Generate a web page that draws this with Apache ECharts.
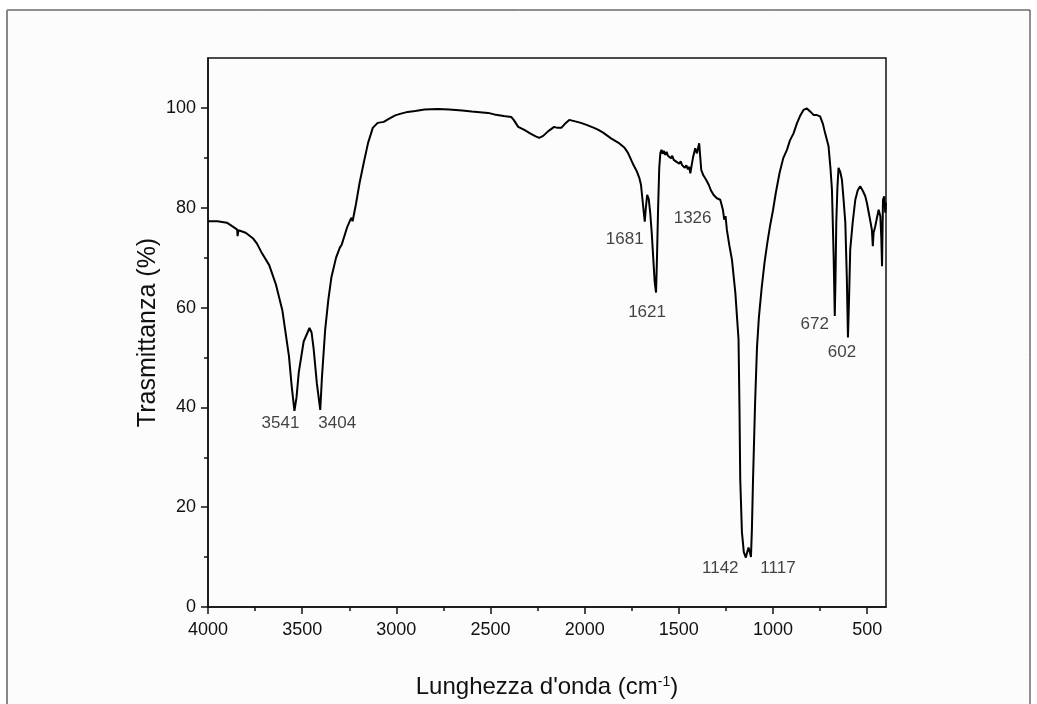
<!DOCTYPE html>
<html>
<head>
<meta charset="utf-8">
<script src="https://cdn.jsdelivr.net/npm/echarts@6/dist/echarts.min.js"></script>
<style>
  html, body { margin: 0; padding: 0; background: #fff; }
  #main { width: 1037px; height: 704px; }
</style>
</head>
<body>
<div id="main"></div>
<script>
// spettro IR: [numero d'onda (cm-1), trasmittanza (%)]
var spectrum = [
  [4000, 77.3], [3950, 77.3], [3900, 77.0], [3860, 76.0], [3845, 75.6], [3843, 74.3], [3838, 75.5],
  [3800, 75.0], [3762, 73.9], [3740, 72.8], [3718, 71.2], [3675, 68.5], [3640, 64.7], [3605, 59.4],
  [3570, 50.2], [3555, 44], [3541, 39.3], [3530, 42], [3518, 47], [3492, 53.2], [3461, 55.9],
  [3450, 55], [3439, 51.7], [3422, 44.8], [3404, 39.5], [3395, 46], [3378, 55.5], [3361, 61.6],
  [3345, 66], [3320, 70], [3300, 72], [3290, 72.6], [3262, 76], [3245, 77.5], [3238, 78],
  [3232, 77.3], [3226, 78.5], [3215, 80.6], [3195, 85], [3173, 89], [3150, 93], [3125, 96],
  [3099, 97], [3067, 97.2], [3040, 97.8], [3006, 98.5], [2980, 98.8], [2940, 99.2], [2900, 99.4],
  [2850, 99.7], [2779, 99.8], [2720, 99.7], [2650, 99.5], [2600, 99.3], [2513, 99.0], [2480, 98.7],
  [2430, 98.4], [2390, 98.2], [2375, 97.5], [2353, 96.2], [2320, 95.6], [2290, 94.9], [2260, 94.3],
  [2241, 94.0], [2220, 94.4], [2195, 95.3], [2162, 96.2], [2145, 96.0], [2124, 96.0], [2100, 97.0],
  [2082, 97.6], [2050, 97.3], [2020, 97.0], [1990, 96.6], [1950, 96.0], [1927, 95.6], [1900, 95.0],
  [1860, 93.9], [1820, 93.0], [1788, 92.0], [1770, 91.0], [1758, 90.0], [1740, 88.5], [1722, 87.2],
  [1710, 86.0], [1701, 84.6], [1690, 80.5], [1681, 77.2], [1675, 80], [1668, 82.6], [1660, 81.8],
  [1652, 79], [1644, 75], [1636, 70], [1628, 65], [1621, 63], [1616, 70], [1610, 80], [1604, 88],
  [1598, 91], [1592, 91.6], [1586, 90.8], [1580, 91.4], [1572, 90.6], [1565, 91.2], [1558, 90.4],
  [1550, 90.8], [1542, 89.9], [1535, 90.4], [1527, 89.6], [1520, 90], [1512, 89.2], [1505, 89.6],
  [1497, 88.8], [1490, 89.3], [1482, 88.5], [1475, 88.9], [1468, 88], [1460, 88.5], [1452, 87.7],
  [1445, 88.2], [1439, 86.9], [1432, 88.5], [1425, 90], [1413, 91.9], [1404, 90.9], [1392, 92.9],
  [1386, 90], [1381, 87.6], [1370, 86.5], [1360, 85.9], [1351, 85.3], [1340, 84.5], [1330, 83.5],
  [1316, 82.6], [1298, 81.9], [1280, 81.6], [1266, 79.6], [1259, 77.6], [1252, 78.3], [1245, 75.6],
  [1232, 72.5], [1218, 69.6], [1200, 63], [1183, 53.6], [1178, 40], [1174, 25.6], [1165, 15],
  [1155, 11], [1150, 10.5], [1144, 9.9], [1137, 11], [1130, 11.9], [1123, 11], [1117, 10],
  [1112, 15.6], [1106, 25.6], [1095, 41], [1085, 52], [1075, 58], [1060, 64], [1045, 69],
  [1030, 73], [1015, 76.5], [1000, 79.5], [985, 83], [965, 87], [945, 90], [926, 91.6], [910, 93.5],
  [891, 94.9], [873, 96.9],
  [855, 98.5], [838, 99.6], [820, 99.9], [800, 99.2], [785, 98.6], [770, 98.6], [750, 98.3],
  [735, 96.8], [723, 94.9], [705, 92.3], [695, 88], [687, 83.6], [678, 70.3], [672, 58.3],
  [668, 66], [664, 77], [658, 84], [652, 88], [643, 87.2], [634, 85.6], [625, 81.5], [616, 77],
  [608, 66], [602, 54], [596, 62], [590, 71.6], [577, 77], [563, 81.6], [550, 83.5], [537, 84.3],
  [530, 84], [522, 83.3], [510, 82.3], [501, 80.9], [488, 78.3], [475, 75.6], [470, 72.3],
  [466, 75], [457, 76.3], [448, 78], [439, 79.6], [430, 78.3], [425, 74], [421, 68.3], [416, 81.6],
  [409, 82.3], [404, 79], [400, 81]
];

// picchi etichettati
var peakWn = [3541, 3404, 1681, 1621, 1326, 1142, 1117, 672, 602];
var peakT = [39.3, 39.5, 77.2, 63, 83.3, 9.9, 10, 58.3, 54];

// tacche
var xMajor = [4000, 3500, 3000, 2500, 2000, 1500, 1000, 500];
var xMinor = [3750, 3250, 2750, 2250, 1750, 1250, 750];
var yMajor = [0, 20, 40, 60, 80, 100];
var yMinor = [10, 30, 50, 70, 90];

// spostamento delle etichette dei picchi (px)
var labelOffsets = [[-14, 12], [17, 13], [-20, 18], [-9, 20], [-19, 27], [-26, 11], [27, 11], [-20, 8], [-6, 15]];

var font = "'Liberation Sans', Arial, sans-serif";
var myChart = echarts.init(document.getElementById("main"));

var peakData = peakWn.map(function (w, i) {
  return {
    value: [w, peakT[i]],
    label: { offset: labelOffsets[i] }
  };
});

var option = {
  backgroundColor: "#fff",
  animation: false,
  grid: {
    left: 208,
    right: 151,
    top: 58,
    bottom: 96,
    show: true,
    borderColor: "#111",
    borderWidth: 1.5,
    backgroundColor: "#fcfcfc"
  },
  graphic: [
    {
      type: "rect",
      z: -1,
      shape: { x: 7, y: 10, width: 1023, height: 720 },
      style: { fill: "#fcfcfc", stroke: "#222", lineWidth: 1 }
    },
    {
      type: "line",
      shape: { x1: 7, y1: 10, x2: 7, y2: 704 },
      style: { stroke: "#888", lineWidth: 2 }
    }
  ],
  xAxis: [
    {
      type: "value",
      min: 400,
      max: 4000,
      inverse: true,
      name: "Lunghezza d'onda (cm{sup|-1})",
      nameLocation: "middle",
      nameGap: 68,
      nameMoveOverlap: false,
      nameTextStyle: {
        fontFamily: font,
        fontSize: 24,
        color: "#111",
        rich: {
          sup: { fontSize: 14, fontFamily: font, color: "#111", verticalAlign: "top", padding: [0, 0, 10, 0] }
        }
      },
      axisLine: { show: true, onZero: false, lineStyle: { color: "#111", width: 1.5 } },
      axisTick: { show: true, inside: false, length: 7, customValues: xMajor, lineStyle: { color: "#111", width: 1.5 } },
      axisLabel: {
        customValues: xMajor,
        margin: 14,
        fontFamily: font,
        fontSize: 18,
        color: "#111",
        formatter: function (v) { return String(v); }
      },
      splitLine: { show: false }
    },
    {
      type: "value",
      min: 400,
      max: 4000,
      inverse: true,
      position: "bottom",
      axisLine: { show: false },
      axisTick: { show: true, inside: false, length: 4, customValues: xMinor, lineStyle: { color: "#111", width: 1.5 } },
      axisLabel: { show: false },
      splitLine: { show: false }
    }
  ],
  yAxis: [
    {
      type: "value",
      min: 0,
      max: 110,
      name: "Trasmittanza (%)",
      nameLocation: "middle",
      nameGap: 47,
      nameRotate: 90,
      nameMoveOverlap: false,
      nameTextStyle: { fontFamily: font, fontSize: 25, color: "#111" },
      axisLine: { show: true, onZero: false, lineStyle: { color: "#111", width: 1.5 } },
      axisTick: { show: true, inside: false, length: 7, customValues: yMajor, lineStyle: { color: "#111", width: 1.5 } },
      axisLabel: { customValues: yMajor, margin: 12, fontFamily: font, fontSize: 18, color: "#111" },
      splitLine: { show: false }
    },
    {
      type: "value",
      min: 0,
      max: 110,
      position: "left",
      axisLine: { show: false },
      axisTick: { show: true, inside: false, length: 4, customValues: yMinor, lineStyle: { color: "#111", width: 1.5 } },
      axisLabel: { show: false },
      splitLine: { show: false }
    }
  ],
  series: [
    {
      name: "spettro",
      type: "line",
      data: spectrum,
      showSymbol: false,
      symbol: "none",
      lineStyle: { color: "#000", width: 2 },
      z: 3
    },
    {
      name: "picchi",
      type: "scatter",
      data: peakData,
      symbolSize: 1,
      itemStyle: { color: "transparent" },
      label: {
        show: true,
        position: "inside",
        formatter: function (p) { return String(p.value[0]); },
        fontFamily: font,
        fontSize: 17,
        color: "#111"
      },
      z: 4
    }
  ]
};

myChart.setOption(option);
</script>
</body>
</html>
